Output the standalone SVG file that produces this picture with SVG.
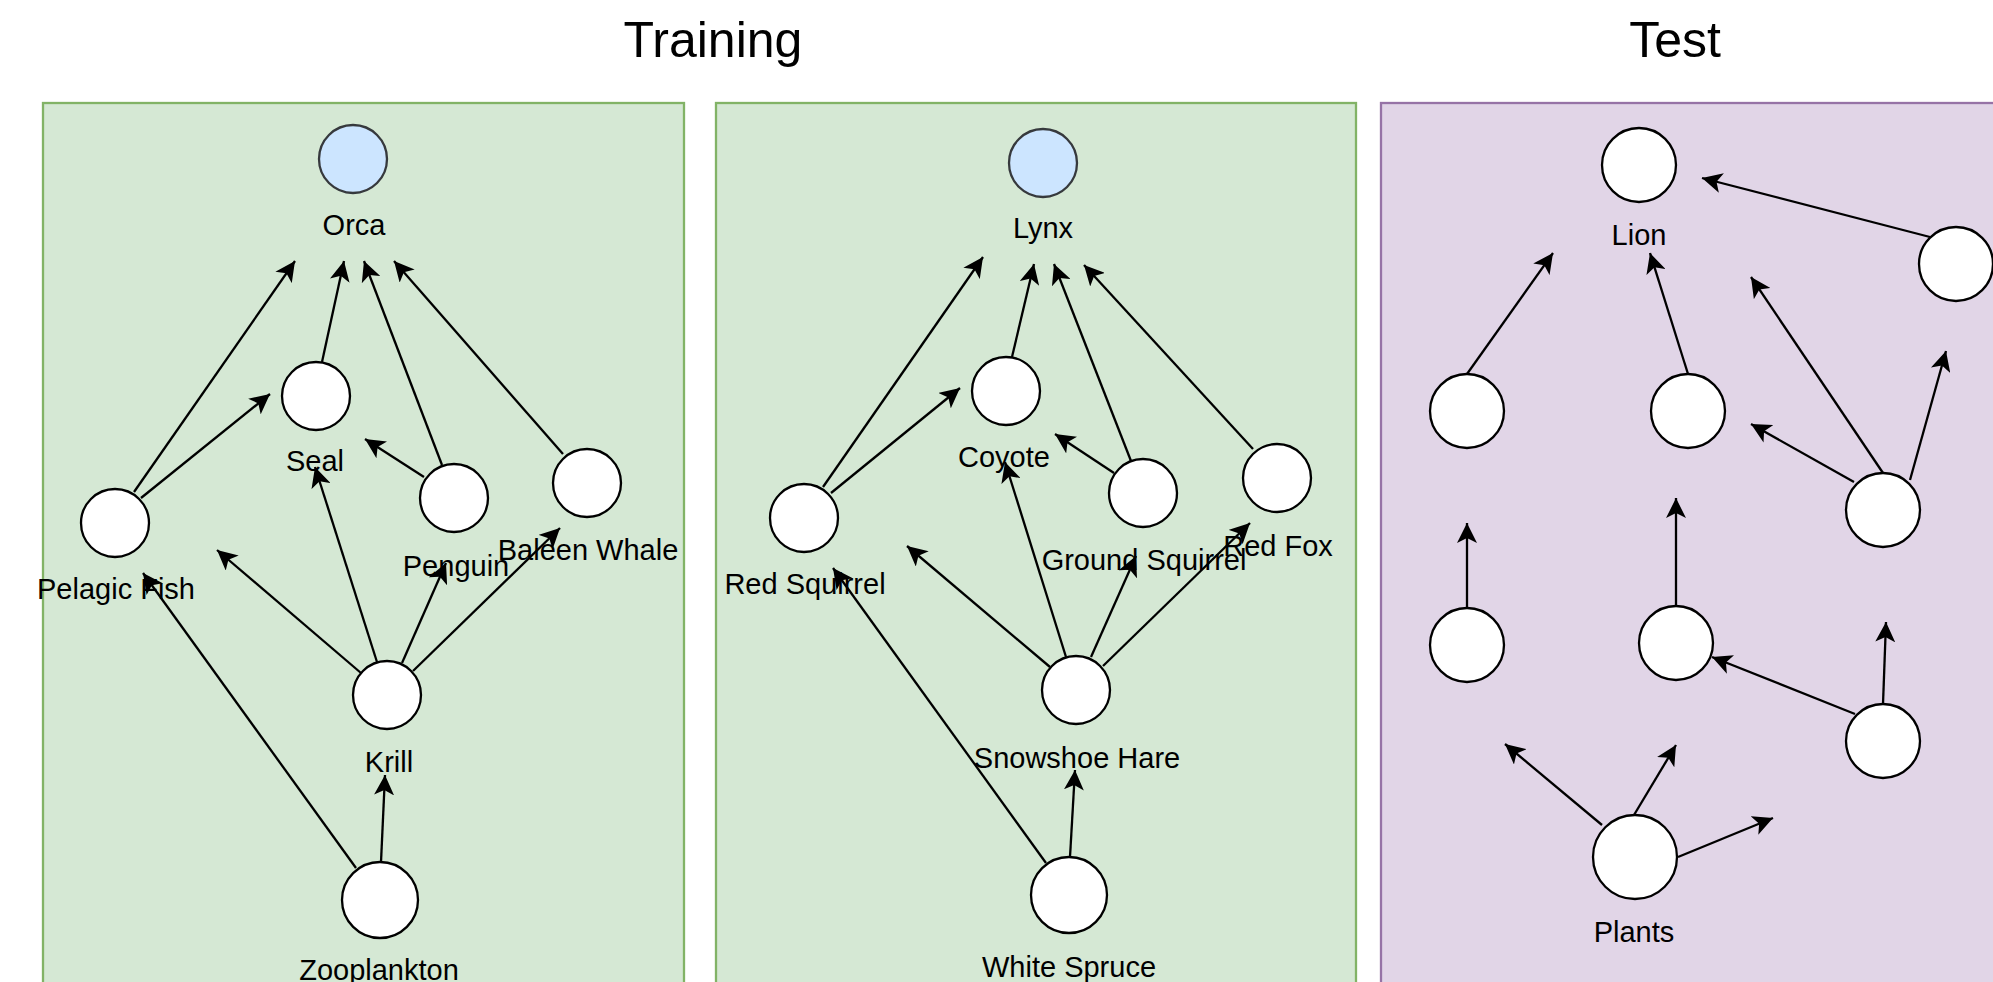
<svg xmlns="http://www.w3.org/2000/svg" width="1993" height="982" viewBox="0 0 1993 982">
  <style>
    text { font-family: "Liberation Sans", Arial, Helvetica, sans-serif; fill: #000; text-anchor: middle; }
    .title { font-size: 50px; }
    .lbl { font-size: 29px; }
    .node { fill: #ffffff; stroke: #000; stroke-width: 2.3; }
    .top { fill: #cce5ff; stroke: #36393d; stroke-width: 2.3; }
    .train { fill: #d5e8d4; stroke: #82b366; stroke-width: 2.3; }
    .test { fill: #e1d5e7; stroke: #9673a6; stroke-width: 2.3; }
    .edge { fill: none; stroke: #000; stroke-width: 2.3; marker-end: url(#arrow); }
  </style>
  <defs>
    <marker id="arrow" markerUnits="userSpaceOnUse" markerWidth="20" markerHeight="20" viewBox="0 0 20 20" refX="20" refY="10" orient="auto">
      <path d="M20,10 L0,0 L5,10 L0,20 Z" fill="#000"/>
    </marker>
  </defs>

  <rect width="1993" height="982" fill="#ffffff"/>

  <!-- headings -->
  <text class="title" x="713" y="57">Training</text>
  <text class="title" x="1675" y="57">Test</text>

  <!-- panels -->
  <g id="panel-ocean"><rect class="train" x="43" y="103" width="641" height="900"/></g>
  <g id="panel-forest"><rect class="train" x="716" y="103" width="640" height="900"/></g>
  <g id="panel-savanna"><rect class="test" x="1381" y="103" width="700" height="900"/></g>

  <!-- connectors -->
  <g id="connectors">
    <!-- ocean web -->
    <line class="edge" x1="134" y1="492" x2="295" y2="261"/>
    <line class="edge" x1="322" y1="362" x2="344" y2="261"/>
    <line class="edge" x1="442" y1="465" x2="364" y2="261"/>
    <line class="edge" x1="563" y1="454" x2="394" y2="261"/>
    <line class="edge" x1="141" y1="498" x2="270" y2="394"/>
    <line class="edge" x1="424" y1="477" x2="365" y2="439"/>
    <line class="edge" x1="377" y1="662" x2="315" y2="467"/>
    <line class="edge" x1="361" y1="673" x2="217" y2="550"/>
    <line class="edge" x1="402" y1="663" x2="446" y2="563"/>
    <line class="edge" x1="413" y1="671" x2="560" y2="528"/>
    <line class="edge" x1="381" y1="862" x2="385" y2="775"/>
    <line class="edge" x1="356" y1="868" x2="143" y2="573"/>
    <!-- forest web -->
    <line class="edge" x1="823" y1="487" x2="983" y2="257"/>
    <line class="edge" x1="1012" y1="357" x2="1034" y2="264"/>
    <line class="edge" x1="1131" y1="461" x2="1054" y2="264"/>
    <line class="edge" x1="1253" y1="449" x2="1084" y2="265"/>
    <line class="edge" x1="831" y1="493" x2="960" y2="388"/>
    <line class="edge" x1="1114" y1="473" x2="1055" y2="434"/>
    <line class="edge" x1="1066" y1="657" x2="1005" y2="462"/>
    <line class="edge" x1="1050" y1="667" x2="907" y2="546"/>
    <line class="edge" x1="1091" y1="657" x2="1136" y2="556"/>
    <line class="edge" x1="1103" y1="666" x2="1250" y2="523"/>
    <line class="edge" x1="1070" y1="857" x2="1075" y2="770"/>
    <line class="edge" x1="1046" y1="863" x2="833" y2="568"/>
    <!-- savanna web -->
    <line class="edge" x1="1930" y1="237" x2="1702" y2="178"/>
    <line class="edge" x1="1467" y1="374" x2="1553" y2="253"/>
    <line class="edge" x1="1688" y1="374" x2="1650" y2="253"/>
    <line class="edge" x1="1883" y1="473" x2="1751" y2="277"/>
    <line class="edge" x1="1910" y1="480" x2="1946" y2="351"/>
    <line class="edge" x1="1854" y1="482" x2="1751" y2="424"/>
    <line class="edge" x1="1467" y1="608" x2="1467" y2="523"/>
    <line class="edge" x1="1676" y1="606" x2="1676" y2="498"/>
    <line class="edge" x1="1855" y1="714" x2="1712" y2="657"/>
    <line class="edge" x1="1883" y1="704" x2="1886" y2="622"/>
    <line class="edge" x1="1602" y1="825" x2="1505" y2="744"/>
    <line class="edge" x1="1634" y1="815" x2="1676" y2="745"/>
    <line class="edge" x1="1678" y1="857" x2="1773" y2="818"/>
  </g>

  <!-- ocean nodes -->
  <g id="orca"><circle class="top" cx="353" cy="159" r="34"/><text class="lbl" x="354" y="235">Orca</text></g>
  <g id="seal"><circle class="node" cx="316" cy="396" r="34"/><text class="lbl" x="315" y="471">Seal</text></g>
  <g id="pelagic-fish"><circle class="node" cx="115" cy="523" r="34"/><text class="lbl" x="116" y="599">Pelagic Fish</text></g>
  <g id="penguin"><circle class="node" cx="454" cy="498" r="34"/><text class="lbl" x="456" y="576">Penguin</text></g>
  <g id="baleen-whale"><circle class="node" cx="587" cy="483" r="34"/><text class="lbl" x="588" y="560">Baleen Whale</text></g>
  <g id="krill"><circle class="node" cx="387" cy="695" r="34"/><text class="lbl" x="389" y="772">Krill</text></g>
  <g id="zooplankton"><circle class="node" cx="380" cy="900" r="38"/><text class="lbl" x="379" y="980">Zooplankton</text></g>

  <!-- forest nodes -->
  <g id="lynx"><circle class="top" cx="1043" cy="163" r="34"/><text class="lbl" x="1043" y="238">Lynx</text></g>
  <g id="coyote"><circle class="node" cx="1006" cy="391" r="34"/><text class="lbl" x="1004" y="467">Coyote</text></g>
  <g id="red-squirrel"><circle class="node" cx="804" cy="518" r="34"/><text class="lbl" x="805" y="594">Red Squirrel</text></g>
  <g id="ground-squirrel"><circle class="node" cx="1143" cy="493" r="34"/><text class="lbl" x="1144" y="570">Ground Squirrel</text></g>
  <g id="red-fox"><circle class="node" cx="1277" cy="478" r="34"/><text class="lbl" x="1278" y="556">Red Fox</text></g>
  <g id="snowshoe-hare"><circle class="node" cx="1076" cy="690" r="34"/><text class="lbl" x="1077" y="768">Snowshoe Hare</text></g>
  <g id="white-spruce"><circle class="node" cx="1069" cy="895" r="38"/><text class="lbl" x="1069" y="977">White Spruce</text></g>

  <!-- savanna nodes -->
  <g id="lion"><circle class="node" cx="1639" cy="165" r="37"/><text class="lbl" x="1639" y="245">Lion</text></g>
  <g id="s-top-right"><circle class="node" cx="1956" cy="264" r="37"/></g>
  <g id="s-left-1"><circle class="node" cx="1467" cy="411" r="37"/></g>
  <g id="s-mid-1"><circle class="node" cx="1688" cy="411" r="37"/></g>
  <g id="s-right-2"><circle class="node" cx="1883" cy="510" r="37"/></g>
  <g id="s-left-3"><circle class="node" cx="1467" cy="645" r="37"/></g>
  <g id="s-mid-3"><circle class="node" cx="1676" cy="643" r="37"/></g>
  <g id="s-right-4"><circle class="node" cx="1883" cy="741" r="37"/></g>
  <g id="plants"><circle class="node" cx="1635" cy="857" r="42"/><text class="lbl" x="1634" y="942">Plants</text></g>
</svg>
